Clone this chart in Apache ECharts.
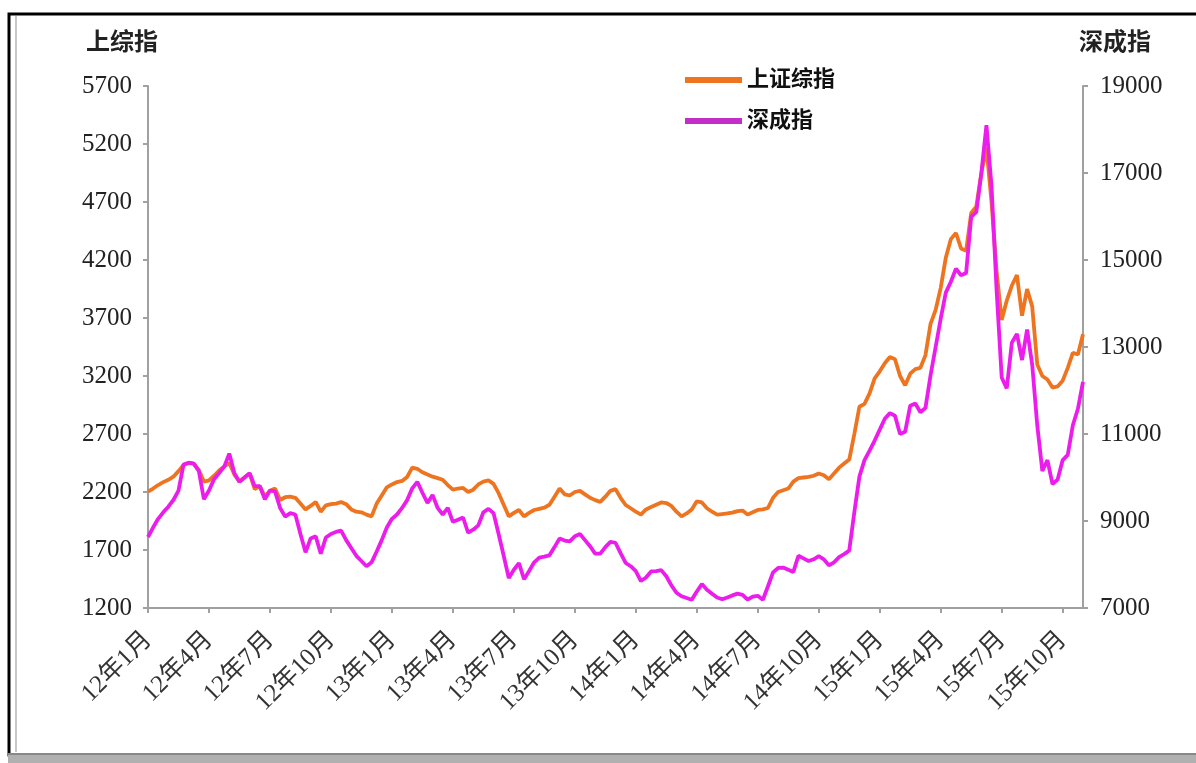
<!DOCTYPE html>
<html>
<head>
<meta charset="utf-8">
<script src="https://cdn.jsdelivr.net/npm/echarts@6/dist/echarts.min.js"></script>
<style>
html,body{margin:0;padding:0;background:#fff;}
#chart{width:1196px;height:763px;}
</style>
</head>
<body>
<div id="chart"></div>
<script>
// Month tick labels (every 3 months), weekly samples: 4 per month, Jan 2012 .. first week of Nov 2015
const tickLabels = ["12年1月","12年4月","12年7月","12年10月","13年1月","13年4月","13年7月","13年10月","14年1月","14年4月","14年7月","14年10月","15年1月","15年4月","15年7月","15年10月"];
const years = ["12","13","14","15"];
const weeksPerMonth = 4;
const seriesNames = ["上证综指","深成指"];
const leftAxisName = "上综指";
const rightAxisName = "深成指";

// 上证综指 (left axis)
const shValues = [
2203,2230,2260,2285,2305,2332,2380,2433,2450,2445,2390,2290,
2300,2340,2385,2420,2450,2350,2290,2325,2360,2225,2250,2160,
2210,2230,2131,2155,2160,2150,2100,2050,2080,2114,2030,2085,
2095,2100,2114,2095,2050,2030,2025,2005,1990,2100,2170,2240,
2265,2286,2295,2330,2410,2400,2370,2350,2332,2320,2305,2260,
2220,2230,2235,2200,2220,2265,2290,2300,2270,2190,2090,1990,
2020,2045,1990,2020,2045,2055,2065,2090,2160,2230,2180,2170,
2200,2210,2180,2150,2130,2115,2160,2210,2225,2150,2088,2060,
2030,2005,2050,2070,2090,2110,2105,2080,2030,1990,2015,2050,
2120,2110,2060,2030,2005,2010,2015,2022,2035,2040,2005,2025,
2045,2050,2062,2150,2200,2215,2230,2290,2320,2325,2330,2340,
2360,2345,2310,2360,2410,2445,2480,2700,2935,2960,3050,3180,
3240,3310,3364,3345,3200,3120,3220,3260,3270,3380,3650,3770,
3960,4220,4380,4433,4300,4280,4605,4660,4950,5170,4700,4100,
3683,3850,3980,4071,3720,3950,3800,3300,3200,3170,3100,3110,
3160,3270,3400,3385,3560
];

// 深成指 (right axis)
const szValues = [
8632,8850,9050,9200,9330,9483,9700,10300,10340,10320,10150,9500,
9700,9960,10100,10250,10550,10100,9900,10000,10100,9800,9800,9500,
9700,9680,9300,9100,9180,9150,8700,8280,8600,8650,8250,8620,
8700,8750,8780,8560,8380,8200,8080,7960,8050,8300,8560,8850,
9050,9150,9300,9480,9750,9900,9650,9414,9600,9300,9150,9300,
8980,9030,9080,8730,8800,8900,9200,9280,9180,8700,8200,7690,
7880,8030,7660,7850,8050,8160,8180,8210,8400,8600,8550,8530,
8650,8700,8560,8420,8250,8250,8400,8520,8500,8260,8035,7960,
7850,7620,7700,7840,7850,7870,7730,7520,7350,7270,7230,7190,
7380,7550,7420,7330,7240,7200,7240,7290,7330,7300,7190,7260,
7280,7190,7500,7820,7920,7930,7880,7830,8200,8140,8080,8120,
8190,8120,7980,8050,8170,8240,8320,9200,10020,10400,10620,10850,
11100,11350,11480,11420,11000,11050,11650,11700,11500,11600,12350,13000,
13650,14250,14500,14800,14650,14700,15990,16100,17000,18100,16700,14300,
12300,12050,13100,13300,12700,13400,12600,11200,10150,10400,9850,9950,
10400,10520,11200,11580,12200
];

// weekly categories built from month names
const categories = [];
outer:
for (const y of years) {
  for (let m = 1; m <= 12; m++) {
    for (let w = 1; w <= weeksPerMonth; w++) {
      categories.push(y + "年" + m + "月|" + w);
      if (categories.length === shValues.length) break outer;
    }
  }
}
const tickEvery = weeksPerMonth * 3;

const serif = '"Liberation Serif","Noto Sans CJK SC",serif';
const chart = echarts.init(document.getElementById('chart'), null, {renderer: 'canvas'});
chart.setOption({
  backgroundColor: '#ffffff',
  animation: false,
  graphic: [
    {type: 'rect', shape: {x: 9, y: 14, width: 1200, height: 741}, style: {fill: 'none', stroke: '#000', lineWidth: 3}, z: 0},
    {type: 'line', shape: {x1: 16, y1: 16, x2: 16, y2: 752}, style: {stroke: '#c8c8c8', lineWidth: 2}},
    {type: 'rect', shape: {x: 8, y: 754, width: 1190, height: 9}, style: {fill: '#b0b0b0'}},
    {type: 'line', shape: {x1: 8, y1: 754, x2: 1196, y2: 754}, style: {stroke: '#888', lineWidth: 2}}
  ],
  grid: {left: 148, right: 113, top: 86, bottom: 155, containLabel: false},
  legend: {
    orient: 'vertical',
    left: 680,
    top: 63,
    itemWidth: 57,
    itemHeight: 6,
    itemGap: 17,
    icon: 'rect',
    textStyle: {fontSize: 22, fontWeight: 'bold', color: '#111', fontFamily: serif, lineHeight: 24},
    data: seriesNames
  },
  xAxis: {
    type: 'category',
    data: categories,
    boundaryGap: false,
    axisLine: {lineStyle: {color: '#a0a0a0', width: 2}},
    axisTick: {show: true, length: 5, lineStyle: {color: '#a0a0a0', width: 2}, interval: (i) => i % tickEvery === 0},
    axisLabel: {
      interval: (i) => i % tickEvery === 0,
      rotate: 45,
      margin: 28,
      fontSize: 25,
      color: '#333',
      fontFamily: serif,
      formatter: (v) => v.split('|')[0]
    },
    splitLine: {show: false}
  },
  yAxis: [
    {
      type: 'value', min: 1200, max: 5700, interval: 500, position: 'left',
      name: leftAxisName, nameLocation: 'end', nameGap: 30,
      nameTextStyle: {fontSize: 24, fontWeight: 'bold', color: '#222', fontFamily: serif, align: 'center', padding: [0, 52, 0, 0]},
      axisLine: {show: true, lineStyle: {color: '#a0a0a0', width: 2}},
      axisTick: {show: true, length: 5, lineStyle: {color: '#a0a0a0', width: 2}},
      axisLabel: {fontSize: 25, color: '#222', fontFamily: serif, margin: 16, formatter: (v) => String(v)},
      splitLine: {show: false}
    },
    {
      type: 'value', min: 7000, max: 19000, interval: 2000, position: 'right',
      name: rightAxisName, nameLocation: 'end', nameGap: 30,
      nameTextStyle: {fontSize: 24, fontWeight: 'bold', color: '#222', fontFamily: serif, align: 'center', padding: [0, 0, 0, 64]},
      axisLine: {show: true, lineStyle: {color: '#a0a0a0', width: 2}},
      axisTick: {show: true, length: 5, lineStyle: {color: '#a0a0a0', width: 2}},
      axisLabel: {fontSize: 25, color: '#222', fontFamily: serif, margin: 17, formatter: (v) => String(v)},
      splitLine: {show: false}
    }
  ],
  series: [
    {
      name: seriesNames[0], type: 'line', yAxisIndex: 0, data: shValues,
      showSymbol: false, symbol: 'none',
      lineStyle: {color: '#EE7420', width: 3.8},
      itemStyle: {color: '#EE7420'}
    },
    {
      name: seriesNames[1], type: 'line', yAxisIndex: 1, data: szValues,
      showSymbol: false, symbol: 'none',
      lineStyle: {color: '#EC1CEC', width: 3.8},
      itemStyle: {color: '#C42EC8'}
    }
  ]
});
</script>
</body>
</html>
